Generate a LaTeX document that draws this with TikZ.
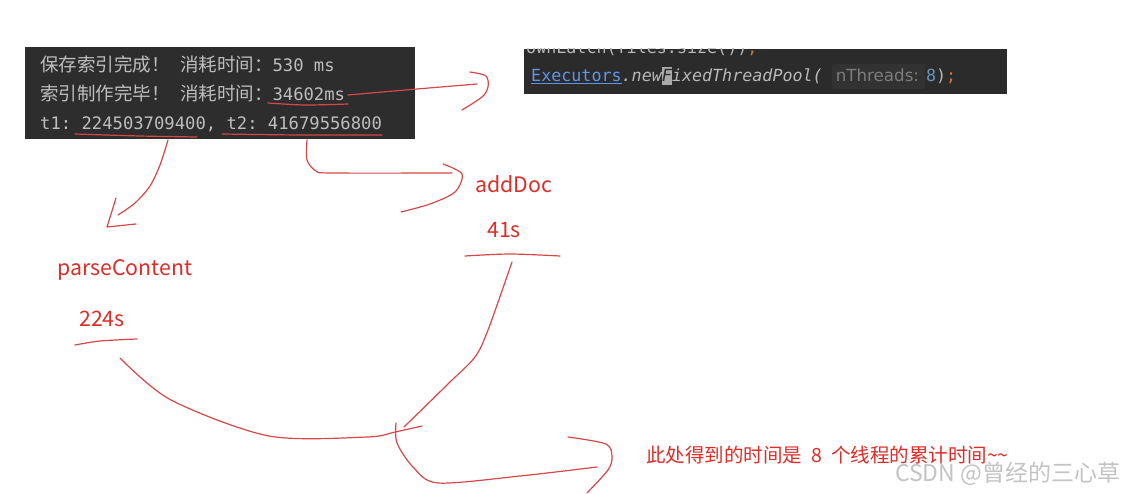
\documentclass[tikz,border=0pt]{standalone}
\usepackage{fontspec}
\setmainfont{Noto Sans CJK SC}
\setmonofont{DejaVu Sans Mono}
\newfontfamily\cjk{Noto Sans CJK SC}
\newfontfamily\hintfont{DejaVu Sans}
\definecolor{termbg}{RGB}{45,45,45}
\definecolor{termgray}{RGB}{190,190,190}
\definecolor{codebg}{RGB}{43,43,43}
\definecolor{hintbg}{RGB}{49,50,49}
\definecolor{codegray}{RGB}{185,185,185}
\definecolor{hintgray}{RGB}{125,125,125}
\definecolor{linkblue}{RGB}{95,150,230}
\definecolor{numblue}{RGB}{104,151,187}
\definecolor{codeorange}{RGB}{204,120,50}
\definecolor{cursorgray}{RGB}{170,170,170}
\definecolor{penred}{RGB}{214,72,72}
\definecolor{labelred}{RGB}{220,45,40}
\definecolor{wmgray}{RGB}{195,195,195}
\newcommand\termcjk[1]{{\fontsize{18.5}{20}\selectfont\cjk #1}}

\begin{document}
\begin{tikzpicture}[x=1pt,y=-1pt,
  pen/.style={draw=penred, line width=1.2pt, line cap=round, line join=round},
  redlabel/.style={text=labelred, font=\fontsize{21.3}{24}\selectfont, anchor=base west, inner sep=0pt},
  termline/.style={text=termgray, font=\fontsize{17.2}{20}\selectfont\ttfamily, anchor=base west, inner sep=0pt},
  codeline/.style={font=\fontsize{16.7}{20}\selectfont\ttfamily, anchor=base west, inner sep=0pt}]
\useasboundingbox[fill=white] (0,0) rectangle (1126,494);

% console output
\fill[termbg] (25,47) rectangle (415,139);
\node[termline] (termSave) at (40,72) {\termcjk{保存索引完成！} \termcjk{消耗时间：}530 ms};
\node[termline] (termIndex) at (40,101) {\termcjk{索引制作完毕！} \termcjk{消耗时间：}34602ms};
\node[termline] (termTimes) at (40,130) {t1: 224503709400, t2: 41679556800};

% code snippet
\fill[codebg] (524,49) rectangle (1007,94);
\begin{scope}
  \clip (524,49) rectangle (1007,94);
  \node[codeline, text=codegray] (codePrev) at (526,54) {ownLatch(files.size())\textcolor{codeorange}{;}};
\end{scope}
\fill[hintbg, rounded corners=2pt] (832,64) rectangle (925,89);
\node[codeline, text=codegray] (codeLine) at (531,82)
  {{\color{linkblue}\underline{Executors}}{\itshape .new\makebox[0pt][l]{\color{cursorgray}\rule[-3pt]{10pt}{18pt}}{\color{codebg}F}ixedThreadPool(}\hspace{13pt}{\hintfont\color{hintgray}nThreads:}\hspace{7pt}{\color{numblue}8}){\color{codeorange};}};

% labels
\node[redlabel] (parseLbl) at (57,276) {parseContent};
\node[redlabel] (parseTime) at (79,326) {224s};
\node[redlabel] (addDocLbl) at (475,193) {addDoc};
\node[redlabel] (addDocTime) at (487,237) {41s};
\node[redlabel, font=\fontsize{19.5}{22}\selectfont] (note) at (646,462) {此处得到的时间是\hspace{9pt}8\hspace{9pt}个线程的累计时间\textasciitilde\textasciitilde};
\node[anchor=base west, inner sep=0pt, text=wmgray, font=\fontsize{23}{26}\selectfont] (watermark) at (895,481) {CSDN @曾经的三心草};

% hand drawn marks
\draw[pen] plot[smooth] coordinates {(268,103) (305,105) (348,104)};
\draw[pen] plot[smooth] coordinates {(348,95) (417,89) (477,84)};
\draw[pen] plot[smooth] coordinates {(470,72) (486,76) (488,87) (482,97) (462,110)};
\draw[pen] plot[smooth] coordinates {(75,134) (140,136) (197,137)};
\draw[pen] plot[smooth] coordinates {(222,134) (300,135) (382,135)};
\draw[pen] plot[smooth] coordinates {(168,140) (160,165) (150,186) (135,203) (118,215)};
\draw[pen] (116,198) -- (107,227) -- (136,224);
\draw[pen] plot[smooth] coordinates {(307,140) (307,160) (316,171) (332,173) (452,173)};
\draw[pen] plot[smooth] coordinates {(443,164) (462,174) (455,192) (430,204) (401,212)};
\draw[pen] plot[smooth] coordinates {(465,256) (510,254) (560,256)};
\draw[pen] plot[smooth] coordinates {(75,345) (100,341) (137,339)};
\draw[pen] plot[smooth] coordinates {(512,262) (488,330) (475,357) (449,383) (404,427)};
\draw[pen] plot[smooth] coordinates {(120,358) (171,400) (269,436) (367,437) (395,432) (422,426)};
\draw[pen] plot[smooth] coordinates {(396,423) (397,443) (413,467) (438,483) (520,476) (597,467)};
\draw[pen] plot[smooth] coordinates {(568,437) (606,444) (612,457) (608,470) (587,493)};
\end{tikzpicture}
\end{document}
